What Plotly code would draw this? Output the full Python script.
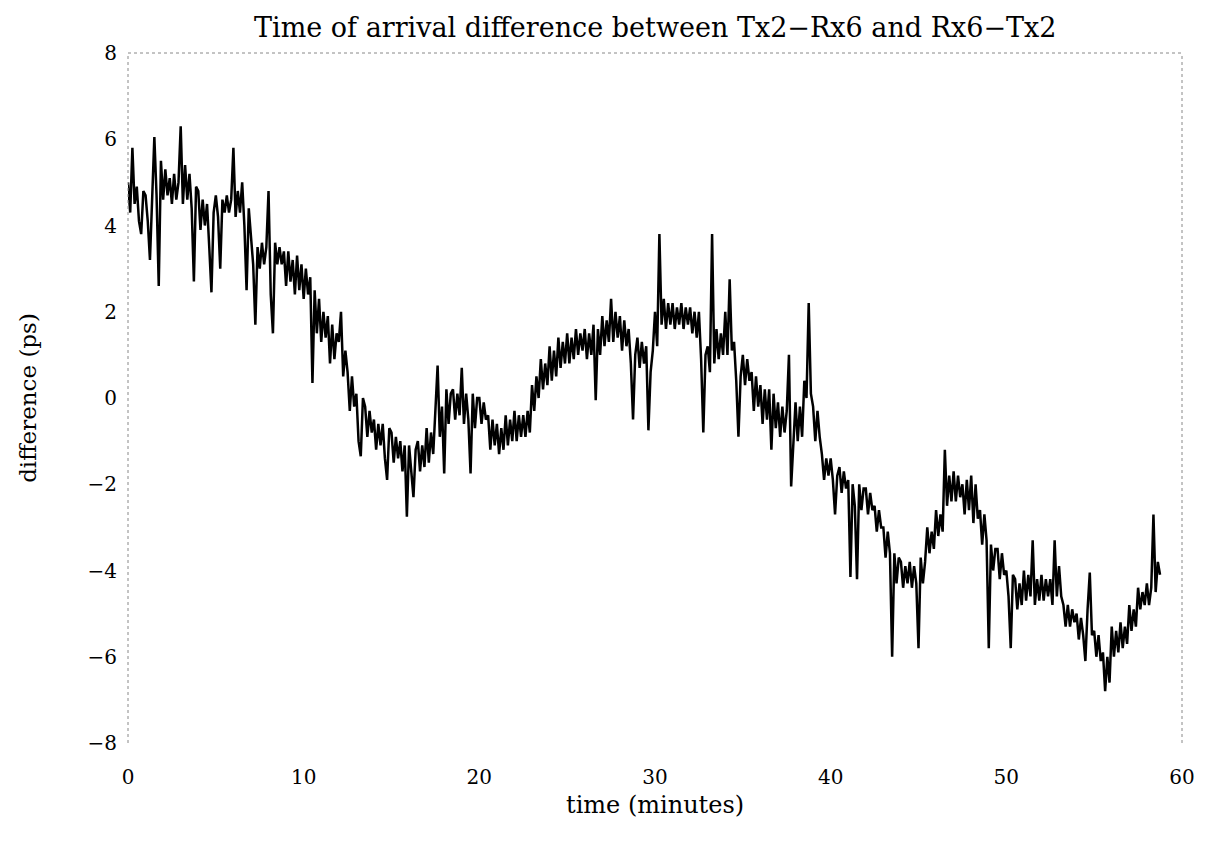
import numpy as np
import plotly.graph_objects as go

diff_ps = [
    5.0, 4.3, 5.8, 4.5, 4.9, 4.1, 3.8, 4.8,            # 0 min
    4.7, 4.1, 3.2, 4.5, 6.05, 4.7, 2.6, 5.5,           # 1
    4.6, 5.3, 4.7, 5.1, 4.5, 5.2, 4.6, 5.0,            # 2
    6.3, 4.5, 5.4, 4.6, 5.2, 4.4, 2.7, 4.9,            # 3
    4.8, 3.9, 4.6, 4.0, 4.5, 3.5, 2.45, 4.3,           # 4
    4.7, 4.2, 3.0, 4.6, 4.3, 4.7, 4.3, 4.6,            # 5
    5.8, 4.2, 4.8, 4.3, 5.0, 4.0, 2.5, 4.4,            # 6
    3.7, 3.1, 1.7, 3.5, 3.0, 3.6, 3.1, 3.5,            # 7
    4.8, 2.4, 1.5, 3.6, 3.1, 3.5, 3.1, 3.4,            # 8
    2.6, 3.4, 2.7, 3.2, 2.4, 3.3, 2.5, 3.1,            # 9
    2.3, 3.0, 2.4, 2.8, 0.35, 2.5, 1.5, 2.3,           # 10
    1.3, 2.0, 1.4, 1.9, 0.8, 1.7, 0.9, 1.5,            # 11
    1.3, 2.0, 0.5, 1.1, 0.6, -0.3, 0.5, -0.2,          # 12
    0.1, -1.0, -1.35, 0.0, -0.2, -0.9, -0.3, -0.8,     # 13
    -0.5, -1.2, -0.6, -1.1, -0.6, -1.4, -1.9, -0.7,    # 14
    -0.8, -1.5, -0.9, -1.4, -1.0, -1.7, -1.1, -2.75,   # 15
    -1.1, -1.8, -2.3, -1.2, -1.0, -1.7, -1.1, -1.6,    # 16
    -0.7, -1.5, -0.8, -1.3, -0.1, 0.75, -0.9, -0.2,    # 17
    -1.75, 0.2, -0.6, 0.1, 0.2, -0.5, 0.1, -0.4,       # 18
    0.7, -0.6, 0.1, -0.5, -1.75, 0.1, -0.7, 0.0,       # 19
    0.0, -0.6, -0.1, -0.5, -0.4, -1.2, -0.5, -1.1,     # 20
    -0.6, -1.3, -0.7, -1.2, -0.4, -1.1, -0.5, -1.0,    # 21
    -0.3, -1.0, -0.4, -0.9, -0.4, -0.9, -0.3, -0.8,    # 22
    0.3, -0.3, 0.5, 0.0, 0.9, 0.2, 0.8, 0.3,           # 23
    1.2, 0.4, 1.1, 0.5, 1.4, 0.7, 1.3, 0.8,            # 24
    1.5, 0.8, 1.4, 0.9, 1.6, 1.0, 1.5, 1.1,            # 25
    1.6, 0.9, 1.5, 1.0, 1.7, -0.05, 1.6, 1.0,          # 26
    1.9, 1.2, 1.8, 1.3, 2.3, 1.3, 2.0, 1.4,            # 27
    1.9, 1.1, 1.8, 1.2, 1.6, 0.8, -0.5, 1.0,           # 28
    1.4, 0.7, 1.3, 0.8, 1.2, -0.75, 0.6, 1.1,          # 29
    2.0, 1.2, 3.8, 1.7, 2.3, 1.6, 2.2, 1.7,            # 30
    2.2, 1.6, 2.1, 1.7, 2.2, 1.6, 2.1, 1.7,            # 31
    2.1, 1.5, 2.0, 1.4, 2.0, 0.9, -0.8, 1.0,           # 32
    1.2, 0.6, 3.8, 0.8, 1.6, 0.9, 1.5, 1.0,            # 33
    2.0, 1.0, 2.75, 1.1, 1.3, 0.4, -0.9, 0.5,          # 34
    1.0, 0.3, 0.9, 0.4, 0.6, -0.3, 0.5, -0.2,          # 35
    0.3, -0.6, 0.2, -0.5, 0.2, -1.2, 0.1, -0.7,        # 36
    -0.1, -0.9, -0.2, -0.8, -0.3, 1.0, -2.05, -1.2,    # 37
    -0.1, -1.0, -0.2, -0.9, 0.4, 0.0, 2.2, 0.1,        # 38
    -0.2, -1.0, -0.3, -0.9, -1.3, -1.9, -1.4, -1.8,    # 39
    -1.4, -1.9, -2.7, -1.8, -1.6, -2.2, -1.7, -2.1,    # 40
    -1.9, -4.15, -2.0, -2.5, -4.2, -2.0, -2.6, -2.1,   # 41
    -2.1, -2.7, -2.2, -2.6, -2.5, -3.1, -2.6, -3.0,    # 42
    -3.0, -3.7, -3.1, -3.6, -6.0, -3.6, -4.3, -3.7,    # 43
    -3.8, -4.4, -3.9, -4.3, -3.8, -4.4, -3.9, -4.3,    # 44
    -5.8, -3.7, -4.3, -3.8, -3.0, -3.6, -3.1, -3.5,    # 45
    -2.6, -3.2, -2.7, -3.1, -1.2, -2.5, -1.8, -2.4,    # 46
    -1.7, -2.4, -1.8, -2.3, -2.0, -2.7, -1.9, -2.6,    # 47
    -1.8, -2.9, -2.0, -2.8, -2.6, -3.4, -2.7, -3.3,    # 48
    -5.8, -3.4, -4.0, -3.5, -3.5, -4.2, -3.6, -4.1,    # 49
    -4.0, -4.6, -5.8, -4.1, -4.2, -4.9, -4.3, -4.8,    # 50
    -4.0, -4.7, -4.1, -4.6, -3.3, -4.8, -4.2, -4.7,    # 51
    -4.1, -4.7, -4.2, -4.6, -4.2, -4.8, -3.3, -4.6,    # 52
    -3.9, -4.6, -4.8, -5.3, -4.8, -5.3, -4.9, -5.2,    # 53
    -5.0, -5.6, -5.1, -5.5, -6.1, -4.9, -4.05, -5.5,   # 54
    -5.4, -6.0, -5.5, -6.1, -5.9, -6.8, -6.0, -6.6,    # 55
    -5.3, -6.0, -5.4, -5.9, -5.2, -5.8, -5.3, -5.7,    # 56
    -4.8, -5.4, -4.9, -5.3, -4.4, -4.9, -4.5, -4.8,    # 57
    -4.3, -4.8, -4.4, -2.7, -4.5, -3.8, -4.1,          # 58
]
time_min = np.arange(len(diff_ps)) * 0.125

x_ticks = [0, 10, 20, 30, 40, 50, 60]
y_ticks = [8, 6, 4, 2, 0, -2, -4, -6, -8]
y_tick_text = ["8", "6", "4", "2", "0", "\u22122", "\u22124", "\u22126", "\u22128"]

title_text = "Time of arrival difference between Tx2\u2212Rx6 and Rx6\u2212Tx2"
x_title = "time (minutes)"
y_title = "difference (ps)"

serif = "DejaVu Serif"

fig = go.Figure()
fig.add_trace(go.Scatter(
    x=time_min, y=diff_ps, mode="lines",
    line=dict(color="black", width=2.5),
    showlegend=False, hoverinfo="x+y",
))

fig.update_layout(
    width=1207, height=854,
    margin=dict(l=128, r=25, t=53, b=111),
    paper_bgcolor="white", plot_bgcolor="white",
    font=dict(family=serif, color="black"),
    xaxis=dict(range=[0, 60], tickvals=x_ticks, showgrid=False, zeroline=False,
               showline=False, ticks="outside", ticklen=16,
               tickcolor="rgba(0,0,0,0)", tickfont=dict(size=20, family=serif)),
    yaxis=dict(range=[-8, 8], tickvals=y_ticks, ticktext=y_tick_text,
               showgrid=False, zeroline=False, showline=False,
               ticks="outside", ticklen=6, tickcolor="rgba(0,0,0,0)",
               tickfont=dict(size=20, family=serif)),
    shapes=[
        dict(type="line", xref="paper", yref="paper", x0=0, x1=1, y0=1, y1=1,
             line=dict(color="#888888", width=1, dash="dot")),
        dict(type="line", xref="paper", yref="paper", x0=0, x1=0, y0=0, y1=1,
             line=dict(color="#888888", width=1, dash="dot")),
        dict(type="line", xref="paper", yref="paper", x0=1, x1=1, y0=0, y1=1,
             line=dict(color="#888888", width=1, dash="dot")),
    ],
    annotations=[
        dict(text=title_text, xref="paper", yref="paper", x=0.5, y=1.0375,
             xanchor="center", yanchor="middle", showarrow=False,
             font=dict(size=27, family=serif)),
        dict(text=x_title, xref="paper", yref="paper", x=0.5, y=-0.09,
             xanchor="center", yanchor="middle", showarrow=False,
             font=dict(size=24, family=serif)),
        dict(text=y_title, xref="paper", yref="paper", x=-0.095, y=0.5,
             xanchor="center", yanchor="middle", showarrow=False, textangle=-90,
             font=dict(size=23, family=serif)),
    ],
)

fig.write_html("out.html")
